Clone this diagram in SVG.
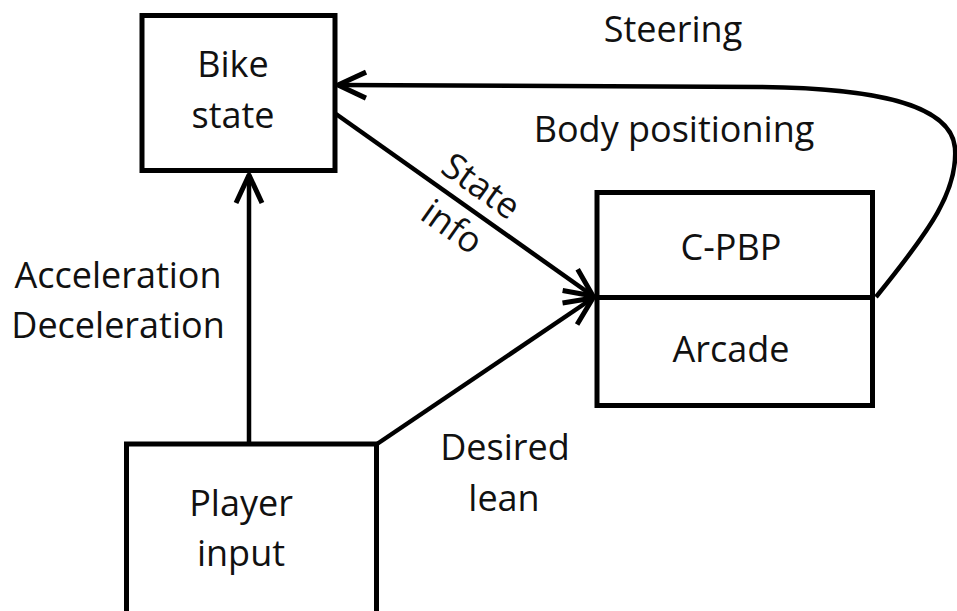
<svg xmlns="http://www.w3.org/2000/svg" width="957" height="611" viewBox="0 0 957 611">
<style>
.box{fill:#fff;stroke:#000;stroke-width:5}
.lbl{font-family:"Open Sans","Liberation Sans",sans-serif;font-size:36px;fill:#111;text-anchor:middle}
.conn{fill:none;stroke:#000;stroke-width:4.5}
</style>
<defs>
<marker id="arr" markerUnits="userSpaceOnUse" viewBox="-34 -18 40 36" markerWidth="40" markerHeight="36" refX="0" refY="0" orient="auto">
<path d="M-28,-13 L0,0 L-28,13" fill="none" stroke="#000" stroke-width="5" stroke-linejoin="round" stroke-linecap="butt"/>
</marker>
</defs>
<rect width="957" height="611" fill="#fff"/>
<g id="connectors">
<path class="conn" d="M249,444 L249,175" marker-end="url(#arr)"/>
<path class="conn" d="M336,114 L593,296" marker-end="url(#arr)"/>
<path class="conn" d="M377,444 L593,298" marker-end="url(#arr)"/>
<path class="conn" d="M876,297 C932,228 958,190 955,148 C951,103 870,88 760,87 L338,85" marker-end="url(#arr)"/>
<text class="lbl" x="673" y="42">Steering</text>
<text class="lbl" x="674" y="142">Body positioning</text>
<g transform="translate(467,206) rotate(35.3)">
<text class="lbl" x="0" y="-12">State</text>
<text class="lbl" x="0" y="38">info</text>
</g>
<text class="lbl" x="118" y="288">Acceleration</text>
<text class="lbl" x="118" y="338">Deceleration</text>
<text class="lbl" x="505" y="460">Desired</text>
<text class="lbl" x="504" y="511">lean</text>
</g>
<g id="bike-state">
<rect class="box" x="142" y="15.5" width="193" height="155"/>
<text class="lbl" x="233" y="77">Bike</text>
<text class="lbl" x="233" y="128">state</text>
</g>
<g id="controller">
<rect class="box" x="597" y="192.5" width="275.5" height="213"/>
<line x1="597" y1="297.5" x2="872.5" y2="297.5" stroke="#000" stroke-width="5"/>
<text class="lbl" x="731" y="260">C-PBP</text>
<text class="lbl" x="731" y="362">Arcade</text>
</g>
<g id="player-input">
<rect class="box" x="126.5" y="444" width="250" height="200"/>
<text class="lbl" x="241" y="516">Player</text>
<text class="lbl" x="241" y="566">input</text>
</g>
</svg>
